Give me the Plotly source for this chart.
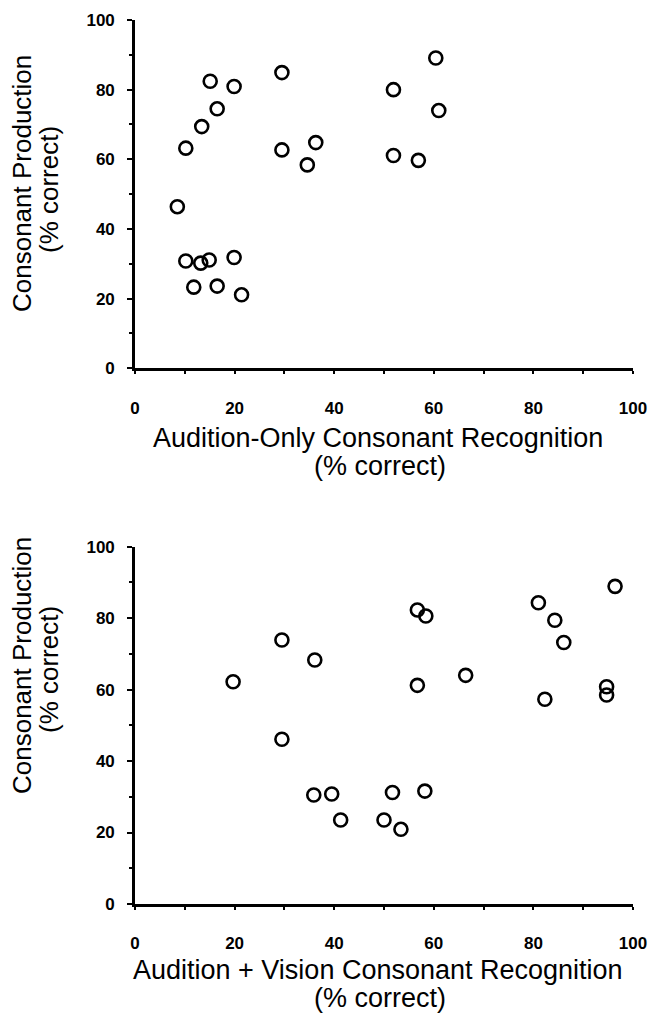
import plotly.graph_objects as go
from plotly.subplots import make_subplots

# Audition-only consonant recognition (% correct) vs consonant production (% correct)
ao_recognition = [15.1, 19.9, 16.5, 13.4, 10.2, 8.5, 10.2, 13.2, 14.9, 19.9, 11.8,
                  16.5, 21.4, 29.5, 29.5, 34.6, 36.3, 51.9, 60.4, 61.0, 51.9, 56.9]
ao_production = [82.4, 80.9, 74.5, 69.4, 63.2, 46.4, 30.8, 30.2, 31.1, 31.8, 23.3,
                 23.6, 21.1, 84.9, 62.7, 58.4, 64.8, 80.0, 89.1, 74.0, 61.1, 59.7]

# Audition + vision consonant recognition (% correct) vs consonant production (% correct)
av_recognition = [19.7, 29.5, 29.5, 36.1, 35.9, 39.5, 41.3, 50.0, 53.4, 51.7, 58.2,
                  56.7, 58.4, 56.7, 66.4, 81.0, 84.3, 86.1, 82.3, 96.4, 94.7, 94.7]
av_production = [62.2, 73.9, 46.1, 68.3, 30.5, 30.8, 23.5, 23.5, 20.9, 31.2, 31.6,
                 82.3, 80.6, 61.2, 64.0, 84.3, 79.4, 73.2, 57.3, 88.9, 60.8, 58.5]

tick_vals = [0, 20, 40, 60, 80, 100]
tick_text = ["0", "20", "40", "60", "80", "100"]
minor_vals = [10, 30, 50, 70, 90]

y_title = ["Consonant Production", "(% correct)"]
x_title_top = ["Audition-Only Consonant Recognition", "(% correct)"]
x_title_bottom = ["Audition + Vision Consonant Recognition", "(% correct)"]

W, H = 652, 1024
FONT = "Liberation Sans, Arial, Helvetica, sans-serif"

fig = make_subplots(rows=2, cols=1)

marker = dict(symbol="circle-open", size=13, color="black", line=dict(width=2.6, color="black"))
fig.add_trace(go.Scatter(x=ao_recognition, y=ao_production, mode="markers",
                         marker=marker, cliponaxis=False, showlegend=False), row=1, col=1)
fig.add_trace(go.Scatter(x=av_recognition, y=av_production, mode="markers",
                         marker=marker, cliponaxis=False, showlegend=False), row=2, col=1)


def px_x(p):
    return p / W


def px_y(p):
    return 1 - p / H


x_dom = [px_x(135), px_x(633)]

# second set of y axes, laid over the first, to let the major ticks cross the axis line
inner_ticks = dict(range=[0, 100], showgrid=False, zeroline=False, showline=False,
                   tickmode="array", tickvals=tick_vals, showticklabels=False,
                   ticks="inside", ticklen=4, tickwidth=2, tickcolor="black")

fig.update_layout(
    template="none",
    width=W, height=H,
    margin=dict(l=0, r=0, t=0, b=0),
    paper_bgcolor="white", plot_bgcolor="white",
    font=dict(family=FONT, color="black"),
    xaxis=dict(domain=x_dom, anchor="y"),
    xaxis2=dict(domain=x_dom, anchor="y2"),
    yaxis=dict(domain=[px_y(368.3), px_y(20)], anchor="x"),
    yaxis2=dict(domain=[px_y(904), px_y(546.7)], anchor="x2"),
    yaxis3=dict(overlaying="y", anchor="x", side="left", **inner_ticks),
    yaxis4=dict(overlaying="y2", anchor="x2", side="left", **inner_ticks),
)

common = dict(
    range=[0, 100], showgrid=False, zeroline=False, automargin=False,
    showline=True, linecolor="black", linewidth=2.6,
    tickmode="array", tickvals=tick_vals, ticktext=tick_text,
    ticks="outside", tickcolor="black", tickwidth=2,
    tickfont=dict(family=FONT, size=17, color="black", weight="bold"),
)
fig.update_xaxes(**common, ticklen=3, ticklabelstandoff=19,
                 minor=dict(tickvals=minor_vals, ticks="outside",
                            ticklen=3, tickwidth=1.5, tickcolor="black"))
for name in ("yaxis", "yaxis2"):
    fig.layout[name].update(**common, ticklen=5, ticklabelstandoff=9,
                            minor=dict(tickvals=minor_vals, ticks="outside",
                                       ticklen=3, tickwidth=1.5, tickcolor="black"))


def add_label(text, x, y, size, angle=0):
    fig.add_annotation(text=text, xref="paper", yref="paper", x=px_x(x), y=px_y(y),
                       xanchor="center", yanchor="middle", showarrow=False,
                       textangle=angle, font=dict(family=FONT, size=size, color="black"))


# vertical axis titles
add_label(y_title[0], 22, 184, 26, -90)
add_label(y_title[1], 49, 190, 26, -90)
add_label(y_title[0], 22, 666, 26, -90)
add_label(y_title[1], 49, 670, 26, -90)

# horizontal axis titles
add_label(x_title_top[0], 378, 438, 27)
add_label(x_title_top[1], 380, 466, 27)
add_label(x_title_bottom[0], 378, 970, 27)
add_label(x_title_bottom[1], 380, 998, 27)

fig.write_html("out.html")
